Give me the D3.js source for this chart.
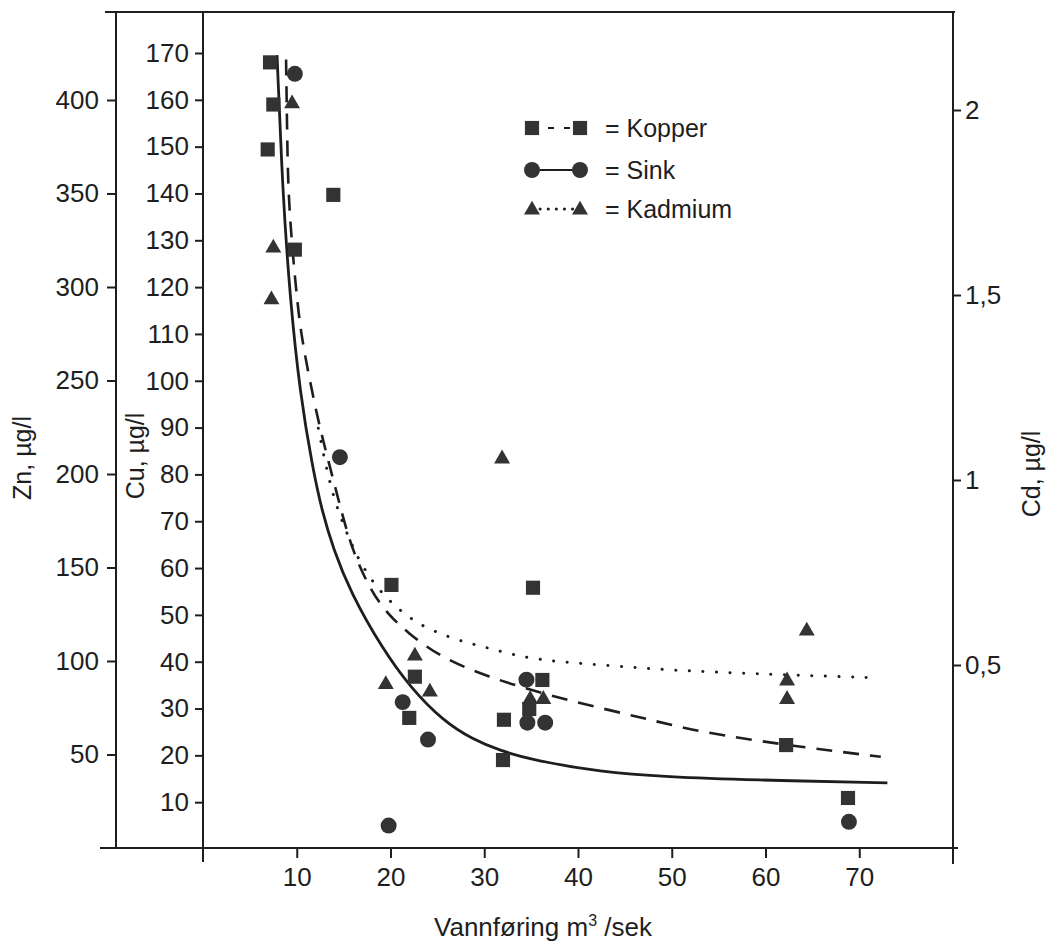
<!DOCTYPE html>
<html><head><meta charset="utf-8">
<script src="https://cdn.jsdelivr.net/npm/d3@7"></script>
<style>
html,body{margin:0;padding:0;background:#fff;}
svg{display:block;font-family:"Liberation Sans",Arial,Helvetica,sans-serif;}
</style></head>
<body><svg id="c" width="1048" height="951"></svg>
<script>
// ---- tick labels ----
const xTicks = [10,20,30,40,50,60,70];
const znTicks = [50,100,150,200,250,300,350,400];
const cuTicks = [10,20,30,40,50,60,70,80,90,100,110,120,130,140,150,160,170];
const cdTicks = [0.5,1,1.5,2];
const cdTickLabels = ["0,5","1","1,5","2"];

// ---- measured points (x = vannføring m3/sek) ----
const kopperQ  = [7.15,7.5,6.9,13.9,9.8,20.1,35.2,22.6,22.0,32.0,32.1,36.2,34.8,62.2,68.8];
const kopperCu = [168,159,149.4,139.7,128,56.4,55.8,36.8,28,19,27.6,36.1,29.9,22.2,10.9];
const sinkQ  = [9.8,14.6,21.3,24.0,34.5,34.6,36.5,19.8,68.9];
const sinkZn = [414,209,78,58,90,67,67,12,14];
const kadmQ  = [9.5,7.5,7.3,22.6,19.5,24.2,34.9,36.3,31.9,64.4,62.3,62.3];
const kadmCd = [2.02,1.63,1.49,0.527,0.45,0.43,0.41,0.41,1.06,0.595,0.46,0.41];

// ---- fitted curves ----
const sinkCurveQ  = [7.9,8.5,9.3,10.35,11.7,12.7,13.9,15.7,19.2,22.1,25.6,28.8,31.7,35.2,42.4,49.5,58.4,73];
const sinkCurveZn = [424,350,293,243,203,180,160,137,106,86,68,58,52,47,40.6,38,36.4,34.8];
const kopperCurveQ  = [8.86,8.96,9.07,9.5,10.1,10.6,12.2,13.3,14.9,16.0,17.8,19.6,21.8,25.3,30.3,36.7,42.4,47.7,53,62.1,72.3];
const kopperCurveCu = [168.6,155,141,128.6,116,108,92,83.5,71,63.5,55.5,50.4,46.2,41,36.8,32.9,30.1,27.6,25,22.2,19.7];
const kadmCurveQ  = [12.3,13.0,13.9,14.9,15.7,16.5,18.0,19.6,21.0,22.9,25.3,27.6,30.4,33.5,36.5,42.4,50.4,58.4,72];
const kadmCurveCd = [1.14,1.05,0.955,0.884,0.836,0.79,0.727,0.681,0.648,0.612,0.584,0.564,0.546,0.525,0.512,0.5,0.485,0.477,0.465];

const legendItems = ["Kopper","Sink","Kadmium"];

const svg = d3.select("#c");
const ink = "#1e1e1e", fillC = "#333";
const FS = 26;

const x = d3.scaleLinear().domain([0,80]).range([203,953]);
const yCu = d3.scaleLinear().domain([0,170]).range([849,53]);
const yZn = d3.scaleLinear().domain([0,400]).range([848,100]);
const yCd = d3.scaleLinear().domain([0,2]).range([850,110]);

const xAxisY = 848;
// frame lines
svg.append("line").attr("x1",105).attr("x2",955).attr("y1",12).attr("y2",12).attr("stroke",ink).attr("stroke-width",2);
svg.append("line").attr("x1",100).attr("x2",958).attr("y1",xAxisY).attr("y2",xAxisY).attr("stroke",ink).attr("stroke-width",2);
svg.append("line").attr("x1",116).attr("x2",116).attr("y1",11).attr("y2",xAxisY).attr("stroke",ink).attr("stroke-width",2);
svg.append("line").attr("x1",203).attr("x2",203).attr("y1",11).attr("y2",862).attr("stroke",ink).attr("stroke-width",2);
svg.append("line").attr("x1",953).attr("x2",953).attr("y1",11).attr("y2",864).attr("stroke",ink).attr("stroke-width",2);

function styleAxis(g){
  g.select(".domain").remove();
  g.selectAll(".tick line").attr("stroke",ink).attr("stroke-width",2);
  g.selectAll(".tick text").attr("fill",ink).style("font-size",FS+"px").style("font-family","'Liberation Sans',Arial,sans-serif");
}
// x axis
svg.append("g").attr("transform",`translate(0,${xAxisY})`)
  .call(d3.axisBottom(x).tickValues(xTicks).tickSize(10).tickPadding(10).tickFormat(d3.format("d")))
  .call(styleAxis);
// Zn axis
svg.append("g").attr("transform","translate(116,0)")
  .call(d3.axisLeft(yZn).tickValues(znTicks).tickSize(9).tickPadding(8).tickFormat(d3.format("d")))
  .call(styleAxis);
// Cu axis
svg.append("g").attr("transform","translate(203,0)")
  .call(d3.axisLeft(yCu).tickValues(cuTicks).tickSize(8).tickPadding(6).tickFormat(d3.format("d")))
  .call(styleAxis);
// Cd axis
svg.append("g").attr("transform","translate(953,0)")
  .call(d3.axisRight(yCd).tickValues(cdTicks).tickSize(8).tickPadding(4).tickFormat((d,i)=>cdTickLabels[i]))
  .call(styleAxis);

// axis titles
svg.append("text").attr("transform","translate(31,458) rotate(-90)").attr("text-anchor","middle")
  .style("font-size","25px").attr("fill",ink).text("Zn, \u00B5g/l");
svg.append("text").attr("transform","translate(144,456) rotate(-90)").attr("text-anchor","middle")
  .style("font-size","25px").attr("fill",ink).text("Cu, \u00B5g/l");
svg.append("text").attr("transform","translate(1040,474) rotate(-90)").attr("text-anchor","middle")
  .style("font-size","25px").attr("fill",ink).text("Cd, \u00B5g/l");
const xt = svg.append("text").attr("x",543).attr("y",936).attr("text-anchor","middle")
  .style("font-size","26px").attr("fill",ink);
xt.append("tspan").text("Vannføring m");
xt.append("tspan").attr("dy",-10).style("font-size","16px").text("3");
xt.append("tspan").attr("dy",10).text(" /sek");

// curves
const curve = d3.curveBasis;
const lineZn = d3.line().x(d=>x(d[0])).y(d=>yZn(d[1])).curve(curve);
const lineCu = d3.line().x(d=>x(d[0])).y(d=>yCu(d[1])).curve(curve);
const lineCd = d3.line().x(d=>x(d[0])).y(d=>yCd(d[1])).curve(curve);
svg.append("path").attr("d",lineZn(sinkCurveQ.map((q,i)=>[q,sinkCurveZn[i]])))
  .attr("fill","none").attr("stroke",ink).attr("stroke-width",2.8);
svg.append("path").attr("d",lineCu(kopperCurveQ.map((q,i)=>[q,kopperCurveCu[i]])))
  .attr("fill","none").attr("stroke",ink).attr("stroke-width",2.6).attr("stroke-dasharray","16 11");
svg.append("path").attr("d",lineCd(kadmCurveQ.map((q,i)=>[q,kadmCurveCd[i]])))
  .attr("fill","none").attr("stroke",ink).attr("stroke-width",3).attr("stroke-linecap","round").attr("stroke-dasharray","0.1 13.5");

// markers
const sq = d3.symbol().type(d3.symbolSquare).size(200);
const ci = d3.symbol().type(d3.symbolCircle).size(200);
const tr = d3.symbol().type(d3.symbolTriangle).size(110);
svg.append("g").selectAll("path").data(kopperQ.map((q,i)=>[q,kopperCu[i]])).join("path")
  .attr("d",sq).attr("transform",d=>`translate(${x(d[0])},${yCu(d[1])})`).attr("fill",fillC);
svg.append("g").selectAll("path").data(sinkQ.map((q,i)=>[q,sinkZn[i]])).join("path")
  .attr("d",ci).attr("transform",d=>`translate(${x(d[0])},${yZn(d[1])})`).attr("fill",fillC);
svg.append("g").selectAll("path").data(kadmQ.map((q,i)=>[q,kadmCd[i]])).join("path")
  .attr("d",tr).attr("transform",d=>`translate(${x(d[0])},${yCd(d[1])+1})`).attr("fill",fillC);

// legend
const lg = svg.append("g");
const lx1 = 532, lx2 = 580, rows = [128,170,209];
const syms = [sq, ci, tr];
const dash = ["6 10","", "0.1 8"];
legendItems.forEach((name,i)=>{
  const y = rows[i];
  lg.append("line").attr("x1",lx1).attr("x2",lx2).attr("y1",y).attr("y2",y)
    .attr("stroke",ink).attr("stroke-width",i===2?3:2).attr("stroke-linecap",i===2?"round":"butt")
    .attr("stroke-dasharray",dash[i] || null);
  [lx1,lx2].forEach(px=>lg.append("path").attr("d",syms[i]).attr("transform",`translate(${px},${y+(i===2?1:0)})`).attr("fill",fillC));
  lg.append("text").attr("x",605).attr("y",y+9).style("font-size","25px").attr("fill",ink).text("= " + name);
});
</script></body></html>
